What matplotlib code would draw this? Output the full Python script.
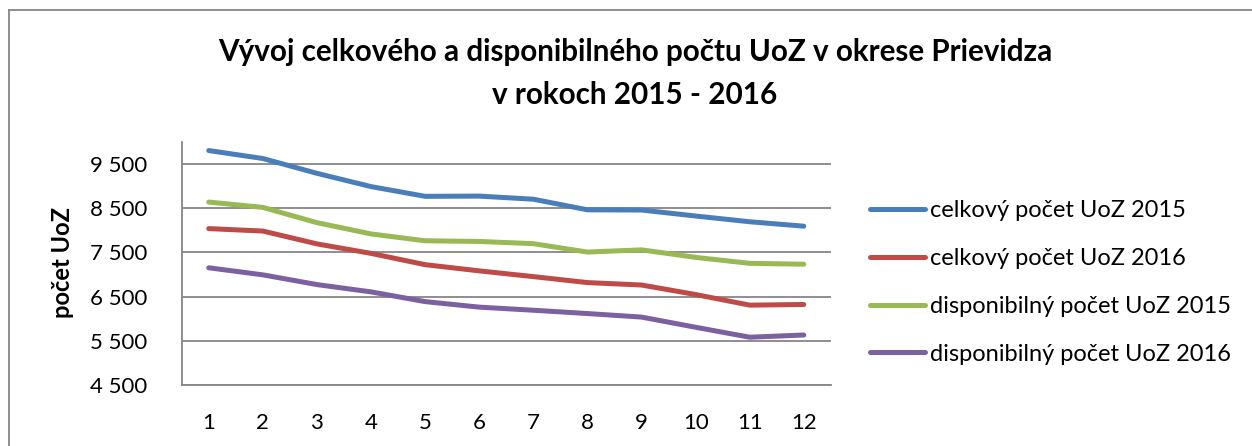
import matplotlib
matplotlib.use("Agg")
import matplotlib.pyplot as plt
from matplotlib.lines import Line2D

plt.rcParams['font.family'] = ['Lato', 'DejaVu Sans']

# mesiace
mesiace = [1, 2, 3, 4, 5, 6, 7, 8, 9, 10, 11, 12]

# hodnoty odčítané z grafu
celkovy_2015 = [9800, 9620, 9285, 8985, 8765, 8770, 8700, 8460, 8455, 8320, 8190, 8090]
celkovy_2016 = [8035, 7980, 7690, 7475, 7220, 7080, 6950, 6815, 6760, 6545, 6305, 6320]
disponibilny_2015 = [8635, 8515, 8170, 7915, 7760, 7745, 7695, 7505, 7555, 7385, 7250, 7230]
disponibilny_2016 = [7150, 6990, 6770, 6605, 6385, 6260, 6190, 6115, 6035, 5805, 5580, 5630]

nazvy = ["celkový počet UoZ 2015", "celkový počet UoZ 2016",
         "disponibilný počet UoZ 2015", "disponibilný počet UoZ 2016"]
farby = ["#4A7EBB", "#BE4B48", "#98B954", "#7D60A0"]
y_ticky = [4500, 5500, 6500, 7500, 8500, 9500]
y_popisky = ["4 500", "5 500", "6 500", "7 500", "8 500", "9 500"]

fig = plt.figure(figsize=(12.52, 4.46), dpi=100)
ax = fig.add_axes([0.1451, 0.1368, 0.6636 - 0.1451, 0.6823 - 0.1368])

serie = [celkovy_2015, celkovy_2016, disponibilny_2015, disponibilny_2016]
for data, farba, nazov in zip(serie, farby, nazvy):
    ax.plot(mesiace, data, color=farba, lw=3.6, label=nazov,
            solid_capstyle='round', solid_joinstyle='round', zorder=3)

ax.set_xlim(0.5, 12.5)
ax.set_ylim(4500, 10000)
ax.set_xticks(mesiace)
ax.set_yticks(y_ticky)
ax.set_yticklabels(y_popisky)
ax.tick_params(axis='both', length=0, labelsize=16)
ax.tick_params(axis='y', pad=25)
ax.tick_params(axis='x', pad=20)
ax.grid(axis='y', color='#868686', lw=1.3, zorder=1)

for s in ['top', 'right']:
    ax.spines[s].set_visible(False)
for s in ['left', 'bottom']:
    ax.spines[s].set_color('#868686')
    ax.spines[s].set_linewidth(1.3)

# popis osi y
fig.text(62 / 1252, 1 - 263 / 446, "počet UoZ", rotation=90, fontsize=17,
         fontweight='bold', ha='center', va='center')

# nadpis
fig.text(635 / 1252, 1 - 52 / 446, "Vývoj celkového a disponibilného počtu UoZ v okrese Prievidza",
         fontsize=21.3, fontweight='bold', ha='center', va='center')
fig.text(635 / 1252, 1 - 95 / 446, "v rokoch 2015 - 2016",
         fontsize=21.3, fontweight='bold', ha='center', va='center')

ax.legend(loc='center left', bbox_to_anchor=(870 / 1252, 1 - 282.5 / 446),
          bbox_transform=fig.transFigure, frameon=False, fontsize=17,
          handlelength=2.33, handletextpad=0.21, labelspacing=1.13,
          borderpad=0, borderaxespad=0)

# rámček grafu
fig.add_artist(Line2D([9 / 1252, 9 / 1252], [0, 1 - 10 / 446], color='#868686', lw=1.3))
fig.add_artist(Line2D([9 / 1252, 1], [1 - 10 / 446, 1 - 10 / 446], color='#868686', lw=1.3))

fig.savefig("out.png", dpi=100)
